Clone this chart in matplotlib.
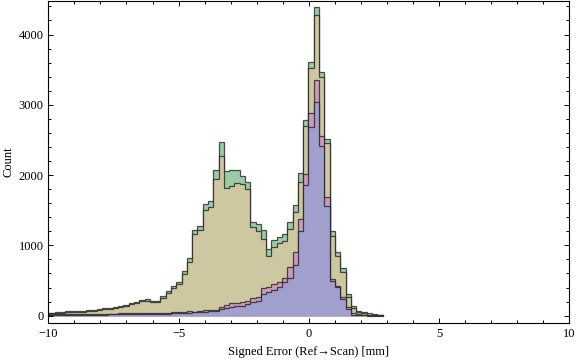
import numpy as np
import matplotlib.pyplot as plt
from matplotlib.ticker import MultipleLocator

# histogram bins (~0.2 mm wide, one edge at 0.19)
bin_width = 0.203
first_edge = 0.19 - 51 * bin_width
n_bins = 64

# bar heights (counts) per bin, back layer to front layer
green = [40, 43, 46, 50, 60, 63, 66, 70,
         78, 84, 96, 102, 110, 118, 138, 152,
         185, 200, 228, 232, 207, 214, 280, 352,
         423, 484, 641, 816, 1219, 1281, 1594, 1638,
         2072, 2466, 2058, 2072, 2068, 1992, 1902, 1338,
         1304, 1219, 944, 1072, 1115, 1162, 1338, 1580,
         2036, 2790, 3604, 4386, 3471, 2520, 1200, 901,
         674, 304, 138, 67, 58, 34, 29, 15]

olive = [30, 32, 34, 36, 48, 50, 54, 56,
         64, 70, 82, 88, 96, 102, 122, 136,
         166, 182, 208, 212, 190, 196, 258, 322,
         392, 452, 595, 770, 1160, 1212, 1504, 1551,
         1940, 2271, 1812, 1850, 1892, 1868, 1802, 1257,
         1210, 1091, 849, 982, 1030, 1063, 1240, 1475,
         1900, 2698, 3528, 4277, 3391, 2452, 1130, 845,
         625, 262, 105, 45, 34, 14, 12, 6]

pink = [22, 22, 24, 24, 25, 25, 26, 26,
        27, 28, 28, 29, 30, 30, 32, 38,
        34, 35, 36, 36, 38, 38, 42, 44,
        48, 52, 56, 62, 58, 70, 77, 82,
        84, 129, 148, 186, 186, 200, 214, 257,
        262, 399, 413, 451, 484, 541, 690, 910,
        1380, 2022, 2888, 3353, 2556, 1684, 527, 423,
        271, 119, 43, 25, 15, 6, 5, 3]

blue = [12, 12, 12, 13, 13, 13, 14, 14,
        15, 15, 16, 16, 17, 17, 18, 19,
        20, 21, 22, 23, 25, 26, 28, 30,
        33, 36, 40, 44, 48, 54, 58, 67,
        70, 91, 115, 129, 138, 143, 162, 200,
        214, 314, 342, 371, 409, 484, 536, 721,
        1207, 1863, 2689, 3044, 2414, 1565, 490, 404,
        238, 96, 12, 6, 4, 2, 2, 1]

layers = [(green, '#9ccba8'), (olive, '#cdc8a0'), (pink, '#cc9abb'), (blue, '#a09fce')]

plt.rcParams['font.family'] = ['Liberation Serif', 'DejaVu Serif']
plt.rcParams['font.size'] = 9

fig = plt.figure(figsize=(5.76, 3.62), dpi=100)
ax = fig.add_axes([0.0839, 0.1086, 0.9045, 0.8886])

edges = first_edge + bin_width * np.arange(n_bins + 1)
for vals, col in layers:
    ax.stairs(vals, edges, baseline=0, fill=True, facecolor=col,
              edgecolor=(0.1, 0.1, 0.1, 0.75), linewidth=0.9)

ax.set_xlim(-10, 10)
ax.set_ylim(-100, 4477)
ax.xaxis.set_major_locator(MultipleLocator(5))
ax.xaxis.set_minor_locator(MultipleLocator(1))
ax.yaxis.set_major_locator(MultipleLocator(1000))
ax.yaxis.set_minor_locator(MultipleLocator(200))
ax.tick_params(which='both', direction='in', top=True, right=True, width=0.7)
ax.tick_params(which='major', length=3.4, pad=3.5)
ax.tick_params(which='minor', length=1.9)
for s in ax.spines.values():
    s.set_linewidth(0.8)

ax.set_xlabel('Signed Error (Ref\u2192Scan) [mm]', labelpad=5)
ax.set_ylabel('Count', labelpad=3)

fig.savefig('out.png', dpi=100)
